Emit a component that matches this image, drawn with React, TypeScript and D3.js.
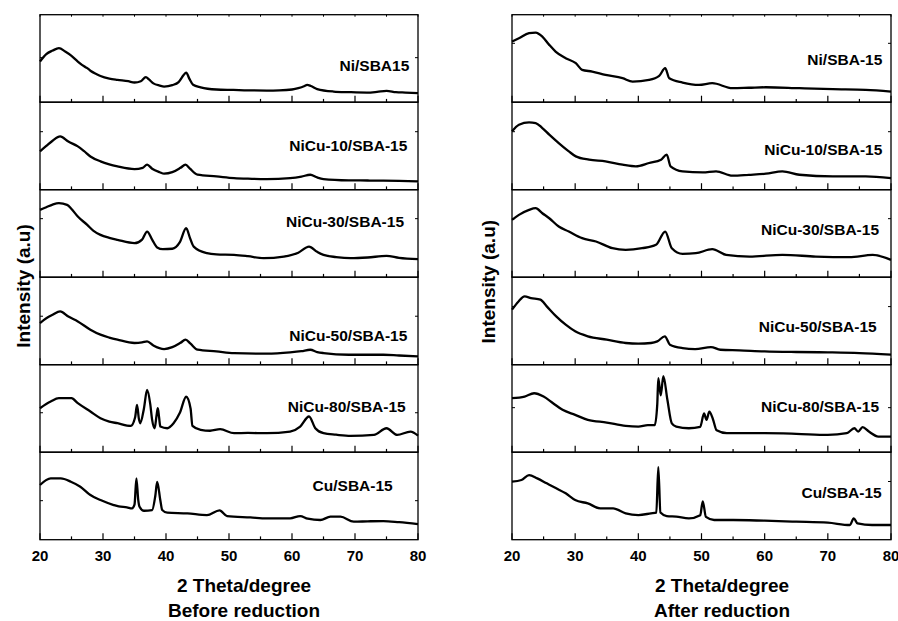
import React from "react";
import * as d3 from "d3";

// ---------- data (2θ in degrees, intensity in arbitrary units 0-100 per trace) ----------
const sampleNames = ["Ni/SBA15", "NiCu-10/SBA-15", "NiCu-30/SBA-15", "NiCu-50/SBA-15", "NiCu-80/SBA-15", "Cu/SBA-15"];
const sampleNamesAfter = ["Ni/SBA-15", "NiCu-10/SBA-15", "NiCu-30/SBA-15", "NiCu-50/SBA-15", "NiCu-80/SBA-15", "Cu/SBA-15"];

const xTickValues = [20, 30, 40, 50, 60, 70, 80];
const xMinorTickValues = [25, 35, 45, 55, 65, 75];

const beforeNi: [number, number][] = [
  [20, 46.5], [21, 55], [22, 59], [23, 61.7], [24, 58], [25, 53], [26, 46.5], [27, 41], [27.5, 38.9], [28, 36], [29, 32], [29.6, 30], [31, 27], [32.3, 25.5], [34, 24], [35, 22.5], [36, 24], [36.8, 28.6], [37.3, 26], [38, 21.5], [39, 19], [39.7, 17.9], [41, 19.5], [42, 23], [42.8, 31], [43.2, 33.9], [43.7, 27], [44.3, 20], [45.5, 17], [48, 14.5], [50.7, 14], [53, 13.5], [56, 13.3], [58, 13.5], [60, 14.5], [61, 16], [62, 18.5], [62.4, 19.8], [63, 18.5], [64, 15], [66.6, 12.2], [69, 11.5], [71.9, 11], [73.5, 11.8], [75, 13], [76.5, 11.5], [78, 11], [80, 10.3]
];
const beforeNiCu10: [number, number][] = [
  [20, 43.8], [21, 50], [22, 56], [23.2, 61], [24.5, 55], [26, 49.5], [27, 44], [28, 38], [29.6, 32.4], [31, 29], [32.3, 26.7], [35, 23.6], [36.3, 25], [37, 28.6], [37.8, 24], [39, 20], [39.7, 18.3], [41, 20], [42.3, 25], [43.1, 28.6], [43.8, 24], [45, 17.1], [48, 15.2], [50.8, 13.3], [53, 12.6], [56, 12.2], [59.7, 13.3], [61.5, 15], [62.9, 17.1], [64, 14], [65, 12.2], [69, 10.7], [72, 10.5], [74.5, 10.3], [77, 10], [80, 9.5]
];
const beforeNiCu30: [number, number][] = [
  [20, 77], [21, 80], [22, 83], [23, 84.6], [24.3, 82.7], [25, 78], [26, 69.3], [27.5, 59.8], [28.5, 53], [29.6, 48.4], [31, 45], [32.3, 42.7], [35, 38.9], [36.2, 43], [37, 52.2], [37.8, 43], [38.6, 34], [39.5, 32], [41, 32.5], [42.2, 40], [43.2, 56], [43.8, 45], [44.4, 35], [46.5, 27.4], [48, 26], [50.8, 25.5], [53, 24], [55.5, 21.7], [58.7, 23.6], [61, 28], [62.7, 35], [64, 29], [65, 25.5], [67, 23], [69.3, 21.7], [72, 22.5], [75, 24.4], [77, 22], [80, 20.6]
];
const beforeNiCu50: [number, number][] = [
  [20, 47.6], [21, 53], [22, 57], [23.2, 61], [24.5, 55], [26, 49.5], [28, 40], [29.6, 34.3], [31, 31], [32.3, 28.6], [35, 24.8], [36.2, 25.5], [37, 26.7], [38, 22], [39.7, 17.9], [41, 20], [42.3, 25], [43.1, 28.6], [43.9, 24], [45, 17.1], [48, 15.2], [50.8, 13.3], [56, 12.6], [59.7, 14.1], [61.5, 15.5], [62.9, 17.1], [64, 14.5], [65, 13.3], [69, 11.4], [74.5, 11.4], [77, 10.5], [80, 9.5]
];
const beforeNiCu80: [number, number][] = [
  [20, 50.3], [21.7, 57.9], [23, 61.7], [25, 61.7], [26, 56], [28, 46.5], [29.6, 38.9], [31, 35], [32.3, 33.1], [34.4, 30.1], [35.1, 40], [35.4, 54.1], [35.7, 38], [35.9, 33.1], [36.5, 50], [37, 71.2], [37.5, 55], [37.8, 37], [38.2, 27.4], [38.5, 42], [38.7, 50.3], [38.9, 40], [39.1, 29.3], [40.2, 27.4], [41.2, 33], [42.2, 45], [43.2, 63.4], [43.9, 50], [44.2, 30], [45.5, 25.5], [47, 24.5], [48.6, 26.3], [50.8, 21.7], [53, 22], [56, 21.7], [59.7, 23.6], [61.3, 29.3], [62.7, 40.8], [63.7, 27.4], [65, 21.7], [67, 20], [69.3, 18.7], [73, 19.8], [75, 27.4], [76.7, 19.8], [78.8, 23.6], [80, 19]
];
const beforeCu: [number, number][] = [
  [20, 62.5], [21.7, 70.1], [23.3, 70.1], [24.9, 66.3], [26.4, 60.6], [28, 51], [29.6, 45.3], [31.7, 39.6], [32.5, 38], [33.8, 37], [34.6, 35.8], [35, 40], [35.3, 70.1], [35.6, 45], [35.8, 37.7], [36.5, 33.1], [37.8, 33.9], [38.3, 50], [38.6, 66], [39.1, 45], [39.4, 33.9], [40.2, 30.9], [43.4, 30.1], [46.5, 28.2], [48.5, 33.6], [49.7, 27], [53.4, 25.5], [56, 24.4], [59.7, 24.4], [61.3, 27], [62.5, 24], [64.5, 22.5], [66.1, 26.3], [67.7, 26.3], [69.8, 20.6], [72, 21], [74.5, 21.3], [77, 20], [80, 17.9]
];

const afterNi: [number, number][] = [
  [20, 69.3], [21.1, 73.1], [22.7, 78.9], [23.75, 79.6], [24.8, 75], [25.9, 65.5], [26.9, 57.9], [28.5, 50.3], [30.1, 44.6], [31.1, 37], [32.7, 35], [34.8, 31.2], [37.5, 27.4], [39.1, 23.6], [41.7, 25.5], [43.3, 30.1], [44.25, 38.9], [44.9, 27.4], [47, 22.5], [49.6, 19.8], [51.7, 21.7], [54.9, 16], [57.5, 16.5], [60.2, 17.1], [65.5, 16], [70.8, 14.9], [76, 14.1], [80, 12.2]
];
const afterNiCu10: [number, number][] = [
  [20, 66.7], [21.1, 74.3], [22.7, 77], [23.75, 76.2], [24.8, 70.5], [25.9, 62.9], [27.4, 53.3], [29, 43.8], [30.1, 38.1], [32.2, 34.3], [34.8, 32.4], [37.5, 28.6], [39.6, 26.7], [41.7, 30.5], [43.6, 34.3], [44.5, 40], [45.1, 26.7], [47, 21], [50.2, 19.8], [52.3, 21], [54.9, 16], [57.5, 17], [60.2, 18.3], [62.8, 21], [65.5, 17.1], [70.8, 15.2], [76, 15.2], [80, 13.3]
];
const afterNiCu30: [number, number][] = [
  [20, 65.5], [21.1, 71.2], [22.7, 77], [23.75, 78.9], [24.8, 73.1], [25.9, 67.4], [27.4, 57.9], [29, 52.2], [31.1, 44.6], [33.3, 40.8], [35.9, 33.1], [38, 31.2], [40.6, 33.1], [42.8, 37], [44.25, 52.2], [45.3, 33.1], [47, 26.7], [49.1, 27.4], [51.7, 32], [53.9, 25.5], [57.6, 23.6], [62.8, 25.5], [68.1, 23.6], [73.4, 22.9], [77.1, 25.5], [80, 19.8]
];
const afterNiCu50: [number, number][] = [
  [20, 62.9], [21, 72], [22, 78.1], [23, 76.2], [24.5, 74.3], [25.5, 66.7], [27, 55.2], [28.5, 45.7], [30, 38.1], [32, 32.4], [35, 28.6], [38, 24.8], [40, 24], [42, 24.8], [43, 26.7], [44.2, 32.4], [45, 22.9], [47, 19], [49, 17.9], [51.5, 20.2], [53, 17.1], [56, 16.4], [60, 15.2], [65, 14.5], [70, 14.1], [75, 13.3], [80, 11.4]
];
const afterNiCu80: [number, number][] = [
  [20, 61.7], [22, 63.6], [23.5, 67.4], [25, 63.6], [26.5, 56], [28, 48.4], [30, 42.7], [32, 37], [35, 33.9], [38, 30.1], [40, 29.3], [41.5, 31], [42.6, 31], [43, 55], [43.16, 84.5], [43.55, 65], [43.96, 87], [44.6, 60], [45.3, 33], [46, 29.3], [48, 27.4], [49.8, 29], [50.4, 44.4], [50.8, 37], [51.24, 46.3], [51.8, 38], [52.4, 25], [54, 21.7], [56, 21.7], [60, 21.7], [65, 21], [70, 19.8], [73, 21.7], [74.2, 27.4], [74.8, 23.6], [75.5, 28.6], [76.5, 23.6], [78, 17.9], [80, 17.9]
];
const afterCu: [number, number][] = [
  [20, 66.3], [21.5, 68.2], [22.7, 73.9], [24, 70.1], [25.5, 64.4], [27, 58.7], [28.5, 53], [30, 45.3], [32, 41.5], [34, 35.8], [36, 35.8], [38, 30.1], [40, 28.2], [42, 30.1], [42.85, 31], [43.16, 83], [43.5, 31], [44.5, 27], [46, 26.3], [48, 24.4], [49.8, 28], [50.2, 43.9], [50.7, 26], [52, 22.5], [55, 22.5], [60, 21.7], [65, 20.6], [70, 19.4], [73.5, 16.8], [74.1, 24.4], [74.7, 18.7], [77, 16.8], [80, 16.8]
];

const beforeSeries = [beforeNi, beforeNiCu10, beforeNiCu30, beforeNiCu50, beforeNiCu80, beforeCu];
const afterSeries = [afterNi, afterNiCu10, afterNiCu30, afterNiCu50, afterNiCu80, afterCu];
const beforeYTicks = [50.9, 66.3, 66.9, 55.4, 45.1, 44.6];
const afterYTicks = [67.3, 66.3, 66.9, 66.4, 50.9, 66.5];

// ---------- layout ----------
const W = 898;
const H = 621;
const TOP = 14.7;
const SUB_H = 87.5;
const FONT = "'Liberation Sans', Arial, Helvetica, sans-serif";

interface PanelProps {
  x0: number;
  x1: number;
  series: [number, number][][];
  names: string[];
  yTicks: number[];
  labelRight: number[];
  labelY: number[];
  titleX: number;
  yLabelX: number;
  yLabelY: number;
  subtitle: string;
}

function Panel(p: PanelProps) {
  const xs = d3.scaleLinear().domain([20, 80]).range([p.x0, p.x1]);
  return (
    <g>
      {p.series.map((s, i) => {
        const top = TOP + i * SUB_H;
        const ys = d3.scaleLinear().domain([0, 100]).range([top + SUB_H, top]);
        const line = d3
          .line<[number, number]>()
          .curve(d3.curveMonotoneX)
          .x((d) => xs(d[0]))
          .y((d) => ys(d[1]));
        const b = top + SUB_H;
        return (
          <g key={i}>
            <path d={line(s) || ""} fill="none" stroke="#000" strokeWidth={2.3} strokeLinejoin="round" />
            <rect x={p.x0} y={top} width={p.x1 - p.x0} height={SUB_H} fill="none" stroke="#000" strokeWidth={1.3} />
            {xTickValues.map((t) => (
              <line key={"M" + t} x1={xs(t)} x2={xs(t)} y1={b} y2={b - 6.5} stroke="#000" strokeWidth={1.2} />
            ))}
            {xMinorTickValues.map((t) => (
              <line key={"m" + t} x1={xs(t)} x2={xs(t)} y1={b} y2={b - 3.3} stroke="#000" strokeWidth={1.2} />
            ))}
            {i === 0 &&
              xTickValues.concat(xMinorTickValues).map((t) => (
                <line key={"t" + t} x1={xs(t)} x2={xs(t)} y1={top} y2={top + 2} stroke="#000" strokeWidth={1} />
              ))}
            <line x1={p.x1} x2={p.x1 - 3} y1={ys(p.yTicks[i])} y2={ys(p.yTicks[i])} stroke="#000" strokeWidth={1} />
            <line x1={p.x0} x2={p.x0 + 3} y1={ys(p.yTicks[i])} y2={ys(p.yTicks[i])} stroke="#000" strokeWidth={1} />
            <text
              x={p.labelRight[i]}
              y={top + p.labelY[i] + 5.6}
              textAnchor="end"
              fontFamily={FONT}
              fontWeight="bold"
              fontSize={15.5}
            >
              {p.names[i]}
            </text>
          </g>
        );
      })}
      {xTickValues.map((t) => (
        <text key={"l" + t} x={xs(t)} y={560.5} textAnchor="middle" fontFamily={FONT} fontWeight="bold" fontSize={15}>
          {t}
        </text>
      ))}
      <text x={p.titleX} y={592} textAnchor="middle" fontFamily={FONT} fontWeight="bold" fontSize={19}>
        2 Theta/degree
      </text>
      <text x={p.titleX} y={617} textAnchor="middle" fontFamily={FONT} fontWeight="bold" fontSize={19}>
        {p.subtitle}
      </text>
      <text
        transform={`translate(${p.yLabelX},${p.yLabelY}) rotate(-90)`}
        textAnchor="middle"
        fontFamily={FONT}
        fontWeight="bold"
        fontSize={19}
      >
        Intensity (a.u)
      </text>
    </g>
  );
}

export default function App() {
  return (
    <svg width={W} height={H} style={{ position: "absolute", left: 0, top: 0, background: "#fff" }}>
      <rect x={0} y={0} width={W} height={H} fill="#fff" />
      <Panel
        x0={40}
        x1={418}
        series={beforeSeries}
        names={sampleNames}
        yTicks={beforeYTicks}
        labelRight={[409.3, 407.3, 404, 407.3, 405.7, 392.7]}
        labelY={[50.6, 43.5, 32, 58.5, 41.3, 33.5]}
        titleX={244}
        yLabelX={29.5}
        yLabelY={286}
        subtitle="Before reduction"
      />
      <Panel
        x0={512}
        x1={891}
        series={afterSeries}
        names={sampleNamesAfter}
        yTicks={afterYTicks}
        labelRight={[882.3, 882.3, 879, 876.7, 879, 881.7]}
        labelY={[44.6, 47, 39.6, 48.8, 41.3, 40]}
        titleX={722}
        yLabelX={495}
        yLabelY={281.7}
        subtitle="After reduction"
      />
    </svg>
  );
}
